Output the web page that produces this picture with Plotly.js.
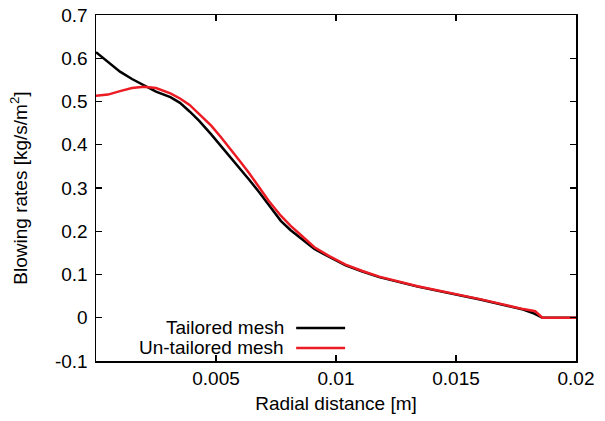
<!DOCTYPE html>
<html>
<head>
<meta charset="utf-8">
<script src="https://cdn.plot.ly/plotly-3.0.1.min.js"></script>
<style>
  html, body { margin: 0; padding: 0; background: #fff; }
  #chart { width: 605px; height: 421px; }
</style>
</head>
<body>
<div id="chart"></div>
<script>
// Radial distance [m] and blowing rate [kg/s/m^2] for each mesh
const tailoredX = [0, 0.0006, 0.001, 0.0015, 0.002, 0.0025, 0.0031, 0.0035, 0.0039, 0.0043,
  0.0048, 0.0052, 0.0056, 0.006, 0.0064, 0.0068, 0.0072, 0.0077, 0.0081, 0.0085,
  0.0091, 0.0097, 0.0104, 0.0111, 0.0118, 0.0134, 0.016, 0.0178, 0.0182, 0.0186, 0.02];
const tailoredY = [0.614, 0.587, 0.569, 0.552, 0.537, 0.523, 0.510, 0.497, 0.477, 0.455,
  0.424, 0.398, 0.372, 0.345, 0.318, 0.290, 0.260, 0.224, 0.203, 0.185,
  0.159, 0.141, 0.121, 0.107, 0.094, 0.072, 0.042, 0.019, 0.011, 0.0, 0.0];

const untailoredX = [0, 0.0005, 0.001, 0.0015, 0.002, 0.0025, 0.0031, 0.0035, 0.0039, 0.0043,
  0.0048, 0.0052, 0.0056, 0.006, 0.0064, 0.0068, 0.0072, 0.0077, 0.0081, 0.0085,
  0.0091, 0.0097, 0.0104, 0.0111, 0.0118, 0.0134, 0.016, 0.0178, 0.0183, 0.0186, 0.02];
const untailoredY = [0.513, 0.516, 0.524, 0.531, 0.534, 0.531, 0.519, 0.507, 0.492, 0.471,
  0.444, 0.418, 0.391, 0.362, 0.333, 0.302, 0.270, 0.236, 0.213, 0.193,
  0.163, 0.143, 0.123, 0.108, 0.095, 0.073, 0.043, 0.020, 0.015, 0.0, 0.0];

const seriesNames = ['Tailored mesh', 'Un-tailored mesh'];
const seriesColors = ['#000000', '#ec1c24'];

const xTicks = [0.005, 0.01, 0.015, 0.02];
const xTickText = ['0.005', '0.01', '0.015', '0.02'];
const yTicks = [-0.1, 0, 0.1, 0.2, 0.3, 0.4, 0.5, 0.6, 0.7];
const yTickText = ['-0.1', '0', '0.1', '0.2', '0.3', '0.4', '0.5', '0.6', '0.7'];

const FONT = 'Liberation Sans, Arial, Helvetica, sans-serif';
const FS = 19;

const traces = [
  { x: tailoredX, y: tailoredY, name: seriesNames[0], mode: 'lines',
    line: { color: seriesColors[0], width: 2.5, shape: 'linear' } },
  { x: untailoredX, y: untailoredY, name: seriesNames[1], mode: 'lines',
    line: { color: seriesColors[1], width: 2.5, shape: 'linear' } }
];

// Key placed inside the plot, text on the left and line sample on the right
const keyRows = [0.0954, 0.0376];
const annotations = seriesNames.map((n, i) => ({
  xref: 'paper', yref: 'paper', x: 0.396, y: keyRows[i],
  xanchor: 'right', yanchor: 'middle', showarrow: false,
  text: n, font: { family: FONT, size: FS, color: '#000' }
}));
const shapes = seriesColors.map((c, i) => ({
  type: 'line', xref: 'paper', yref: 'paper',
  x0: 0.417, x1: 0.519, y0: keyRows[i], y1: keyRows[i],
  line: { color: c, width: 2.5 }
}));

const axisCommon = {
  showgrid: false, zeroline: false, showline: true, mirror: 'allticks',
  linecolor: '#000', linewidth: 1.5, ticks: 'inside', ticklen: 6,
  tickcolor: '#000', tickwidth: 1.2,
  tickfont: { family: FONT, size: FS, color: '#000' }
};

const layout = {
  width: 605, height: 421,
  margin: { l: 96, r: 29, t: 15, b: 60 },
  paper_bgcolor: '#fff', plot_bgcolor: '#fff',
  showlegend: false,
  font: { family: FONT, color: '#000' },
  xaxis: Object.assign({}, axisCommon, {
    range: [0, 0.02], tickvals: xTicks, ticktext: xTickText,
    title: { text: 'Radial distance [m]', font: { family: FONT, size: FS }, standoff: 8 }
  }),
  yaxis: Object.assign({}, axisCommon, {
    range: [-0.1, 0.7], tickvals: yTicks, ticktext: yTickText, ticklabelstandoff: 3,
    title: { text: 'Blowing rates [kg/s/m<sup>2</sup>]', font: { family: FONT, size: FS }, standoff: 22 }
  }),
  annotations: annotations,
  shapes: shapes
};

Plotly.newPlot('chart', traces, layout, { displayModeBar: false, staticPlot: true });
</script>
</body>
</html>
